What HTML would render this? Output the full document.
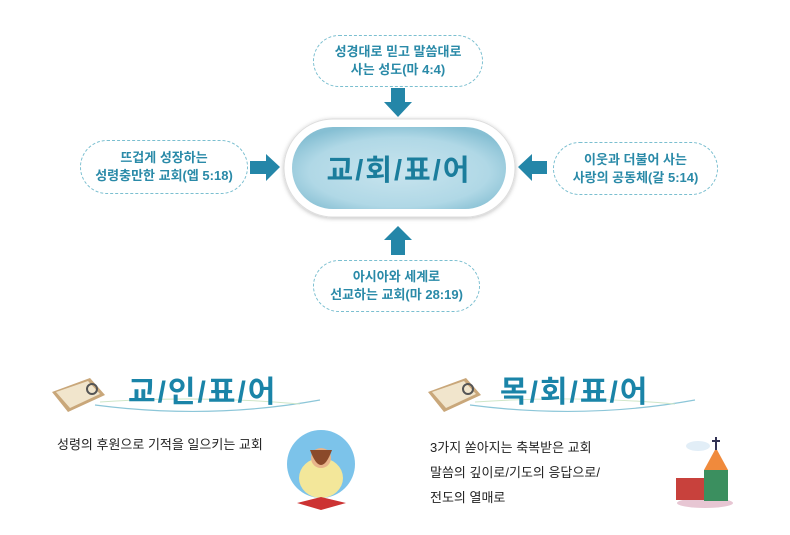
<!DOCTYPE html>
<html><head><meta charset="utf-8"><style>
body{margin:0;width:790px;height:535px;background:#fff;position:relative;overflow:hidden;font-family:"Liberation Sans","Noto Sans CJK KR",sans-serif}
.b{position:absolute;border:1px dashed #7bbfd0;border-radius:30px;color:#2a8aa8;font-weight:bold;font-size:13px;text-align:center;line-height:18px;display:flex;align-items:center;justify-content:center;background:#fff}
.t{position:absolute;color:#1a84a8;font-size:30px;font-weight:bold;letter-spacing:2px;line-height:34px}
.p{position:absolute;font-size:13px;color:#222;line-height:25px}
</style></head><body>
<svg width="790" height="535" style="position:absolute;left:0;top:0">
<defs><radialGradient id="g" cx="50%" cy="55%" r="60%"><stop offset="0" stop-color="#c8e4ee"/><stop offset="0.7" stop-color="#b0d8e6"/><stop offset="1" stop-color="#86bfd3"/></radialGradient>
<filter id="s"><feDropShadow dx="0" dy="1" stdDeviation="2" flood-opacity="0.25"/></filter></defs>
<rect x="284" y="119" width="231" height="98" rx="49" fill="#fff" stroke="#ddd" filter="url(#s)"/>
<rect x="292" y="127" width="214" height="82" rx="41" fill="url(#g)"/>
<text x="399" y="180" text-anchor="middle" font-size="29" font-weight="bold" fill="#1b7d9c" font-family="Liberation Sans,Noto Sans CJK KR,sans-serif" letter-spacing="2">교/회/표/어</text>
<g fill="#2486a8">
<polygon points="391,88 405,88 405,102 412,102 398,117 384,102 391,102"/>
<polygon points="391,255 405,255 405,240 412,240 398,226 384,240 391,240"/>
<polygon points="250,161 266,161 266,154 280,167 266,181 266,174 250,174"/>
<polygon points="547,161 532,161 532,154 518,167 532,181 532,174 547,174"/>
</g>
<path d="M95 405 Q210 420 320 400" fill="none" stroke="#8cc6d8" stroke-width="1.2"/>
<path d="M100 402 Q200 395 300 404" fill="none" stroke="#cfe6c8" stroke-width="1"/>
<path d="M470 405 Q585 420 695 400" fill="none" stroke="#8cc6d8" stroke-width="1.2"/>
<path d="M475 402 Q575 395 675 404" fill="none" stroke="#cfe6c8" stroke-width="1"/>
<g><polygon points="52,392 90,378 105,395 68,412" fill="#c9a77a"/><polygon points="56,392 88,381 100,394 70,408" fill="#f1e5cc"/><circle cx="92" cy="389" r="5" fill="none" stroke="#555" stroke-width="2"/></g>
<g><polygon points="428,392 466,378 481,395 444,412" fill="#c9a77a"/><polygon points="432,392 464,381 476,394 446,408" fill="#f1e5cc"/><circle cx="468" cy="389" r="5" fill="none" stroke="#555" stroke-width="2"/></g>
<circle cx="321" cy="464" r="34" fill="#7cc3ea"/><ellipse cx="321" cy="478" rx="22" ry="20" fill="#f3e79a"/><circle cx="321" cy="458" r="10" fill="#e8b48a"/><path d="M310 450 q11 30 22 0" fill="#8b4a2a"/><polygon points="297,503 321,497 346,503 321,510" fill="#c33"/>
<ellipse cx="705" cy="503" rx="28" ry="5" fill="#e7c6d3"/>
<rect x="676" y="478" width="30" height="22" fill="#c8413c"/><rect x="704" y="470" width="24" height="31" fill="#3b8f5f"/><polygon points="704,470 716,448 728,470" fill="#f08a3c"/><line x1="716" y1="437" x2="716" y2="450" stroke="#335" stroke-width="2"/><line x1="712" y1="441" x2="720" y2="441" stroke="#335" stroke-width="2"/>
<ellipse cx="698" cy="446" rx="12" ry="5" fill="#e2eef7"/>
</svg>
<div class="b" style="left:313px;top:35px;width:168px;height:50px">성경대로 믿고 말씀대로<br>사는 성도(마 4:4)</div>
<div class="b" style="left:80px;top:140px;width:166px;height:52px">뜨겁게 성장하는<br>성령충만한 교회(엡 5:18)</div>
<div class="b" style="left:553px;top:142px;width:163px;height:51px">이웃과 더불어 사는<br>사랑의 공동체(갈 5:14)</div>
<div class="b" style="left:313px;top:260px;width:165px;height:50px">아시아와 세계로<br>선교하는 교회(마 28:19)</div>
<div class="t" style="left:128px;top:376px">교/인/표/어</div>
<div class="t" style="left:500px;top:376px">목/회/표/어</div>
<div class="p" style="left:57px;top:432px">성령의 후원으로 기적을 일으키는 교회</div>
<div class="p" style="left:430px;top:435px">3가지 쏟아지는 축복받은 교회<br>말씀의 깊이로/기도의 응답으로/<br>전도의 열매로</div>
</body></html>
